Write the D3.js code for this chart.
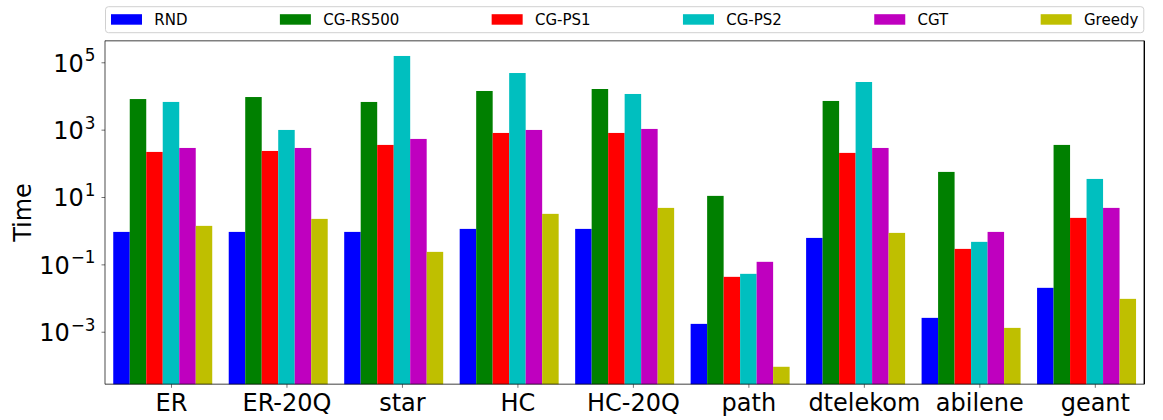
<!DOCTYPE html>
<html>
<head>
<meta charset="utf-8">
<script src="https://cdn.jsdelivr.net/npm/d3@7"></script>
<style>
  html, body { margin: 0; padding: 0; background: #fff; }
  svg { display: block; font-family: "DejaVu Sans", sans-serif; }
</style>
</head>
<body>
<svg id="chart" width="1163" height="420"></svg>
<script>
// Run times per topology (seconds, log scale)
const categories = ["ER", "ER-20Q", "star", "HC", "HC-20Q", "path", "dtelekom", "abilene", "geant"];
const seriesNames = ["RND", "CG-RS500", "CG-PS1", "CG-PS2", "CGT", "Greedy"];

const rnd     = [0.92, 0.92, 0.92, 1.13, 1.13, 0.00171, 0.61, 0.00258, 0.0201];
const cgRs500 = [8100, 9300, 6640, 14060, 16100, 10.8, 7110, 55.6, 352];
const cgPs1   = [218, 233, 352, 798, 798, 0.0426, 204, 0.288, 2.40];
const cgPs2   = [6650, 980, 154000, 48000, 11460, 0.0523, 26000, 0.466, 34.4];
const cgt     = [286, 286, 530, 980, 1050, 0.119, 286, 0.92, 4.75];
const greedy  = [1.39, 2.24, 0.235, 3.16, 4.75, 0.000091, 0.86, 0.0013, 0.00946];

const yTickValues = [1e-3, 1e-1, 1e1, 1e3, 1e5];
const yTickExponents = ["\u22123", "\u22121", "1", "3", "5"];

const series = [rnd, cgRs500, cgPs1, cgPs2, cgt, greedy];
const colors = ["#0000ff", "#008000", "#ff0000", "#00bfbf", "#bf00bf", "#bfbf00"];

// Layout
const plot = { left: 105, right: 1144.3, top: 40.7, bottom: 384.3 };
const barW = 1 / 7;

const svg = d3.select("#chart");

const x = d3.scaleLinear()
  .domain([-barW, categories.length - 1 + 6 * barW])
  .range([plot.left, plot.right]);

const y = d3.scaleLog()
  .domain([Math.pow(10, -4.561), Math.pow(10, 5.641)])
  .range([plot.bottom, plot.top]);

const barPx = x(barW) - x(0);

// Bars
const gBars = svg.append("g");
series.forEach((vals, k) => {
  gBars.append("g")
    .attr("fill", colors[k])
    .selectAll("rect")
    .data(vals)
    .join("rect")
    .attr("x", (d, i) => x(i + k * barW - barW / 2))
    .attr("width", barPx)
    .attr("y", d => y(d))
    .attr("height", d => plot.bottom - y(d));
});

// Y axis ticks
const yAxis = d3.axisLeft(y)
  .tickValues(yTickValues)
  .tickSize(3.5)
  .tickFormat("");
const gy = svg.append("g")
  .attr("transform", `translate(${plot.left},0)`)
  .call(yAxis);
gy.select(".domain").remove();
gy.selectAll(".tick line").attr("stroke", "#000").attr("stroke-opacity", 0.55).attr("stroke-width", 1);

// Y tick labels as 10 with superscript exponent
const gyLabels = svg.append("g");
yTickValues.forEach((v, i) => {
  const t = gyLabels.append("text")
    .attr("x", plot.left - 9.5)
    .attr("y", y(v) + 9.4)
    .attr("text-anchor", "end")
    .attr("font-size", 24)
    .attr("fill", "#000");
  t.append("tspan").text("10");
  t.append("tspan")
    .attr("font-size", 16.8)
    .attr("dy", -10.5)
    .attr("dx", 1)
    .text(yTickExponents[i]);
});

// X axis ticks and labels
const xAxis = d3.axisBottom(x)
  .tickValues(categories.map((c, i) => i + 3 * barW))
  .tickFormat((d, i) => categories[i])
  .tickSize(3.5)
  .tickPadding(6);
const gx = svg.append("g")
  .attr("transform", `translate(0,${plot.bottom})`)
  .call(xAxis);
gx.select(".domain").remove();
gx.selectAll(".tick line").attr("stroke", "#000").attr("stroke-opacity", 0.55).attr("stroke-width", 1);
gx.selectAll(".tick text")
  .attr("font-size", 24)
  .attr("font-family", "DejaVu Sans, sans-serif")
  .attr("fill", "#000");

// Frame
const spines = svg.append("g").attr("fill", "none").attr("stroke-width", 1.4);
spines.append("line").attr("x1", plot.left).attr("x2", plot.right).attr("y1", plot.top).attr("y2", plot.top)
  .attr("stroke", "#000").attr("stroke-opacity", 0.5);
spines.append("line").attr("x1", plot.left).attr("x2", plot.left).attr("y1", plot.top).attr("y2", plot.bottom)
  .attr("stroke", "#000").attr("stroke-opacity", 0.5);
spines.append("line").attr("x1", plot.left).attr("x2", plot.right).attr("y1", plot.bottom).attr("y2", plot.bottom)
  .attr("stroke", "#000").attr("stroke-opacity", 0.5);
spines.append("line").attr("x1", plot.right).attr("x2", plot.right).attr("y1", plot.top).attr("y2", plot.bottom)
  .attr("stroke", "#000");

// Y axis title
svg.append("text")
  .attr("transform", `translate(31,${(plot.top + plot.bottom) / 2}) rotate(-90)`)
  .attr("text-anchor", "middle")
  .attr("font-size", 24)
  .attr("fill", "#000")
  .text("Time");

// Legend: one row spread across the plot width
const legend = { top: 6.7, bottom: 32.7, pad: 6, handleW: 31, handleH: 10.5, textGap: 12.3, fontSize: 15 };
const gLeg = svg.append("g");
gLeg.append("rect")
  .attr("x", plot.left + 0.5).attr("y", legend.top)
  .attr("width", plot.right - plot.left - 1).attr("height", legend.bottom - legend.top)
  .attr("rx", 3).attr("ry", 3)
  .attr("fill", "#fff").attr("fill-opacity", 0.8)
  .attr("stroke", "#d0d0d0").attr("stroke-width", 1);

const items = seriesNames.map((name, k) => {
  const g = gLeg.append("g");
  g.append("rect")
    .attr("width", legend.handleW).attr("height", legend.handleH)
    .attr("y", 14.2)
    .attr("fill", colors[k]);
  const t = g.append("text")
    .attr("x", legend.handleW + legend.textGap)
    .attr("y", 25)
    .attr("font-size", legend.fontSize)
    .attr("fill", "#000")
    .text(name);
  const w = legend.handleW + legend.textGap + t.node().getComputedTextLength();
  return { g, w };
});
const totalW = d3.sum(items, d => d.w);
const avail = plot.right - plot.left - 2 * legend.pad;
const gap = (avail - totalW) / (items.length - 1);
let cx = plot.left + legend.pad;
items.forEach(it => {
  it.g.attr("transform", `translate(${cx},0)`);
  cx += it.w + gap;
});
</script>
</body>
</html>
